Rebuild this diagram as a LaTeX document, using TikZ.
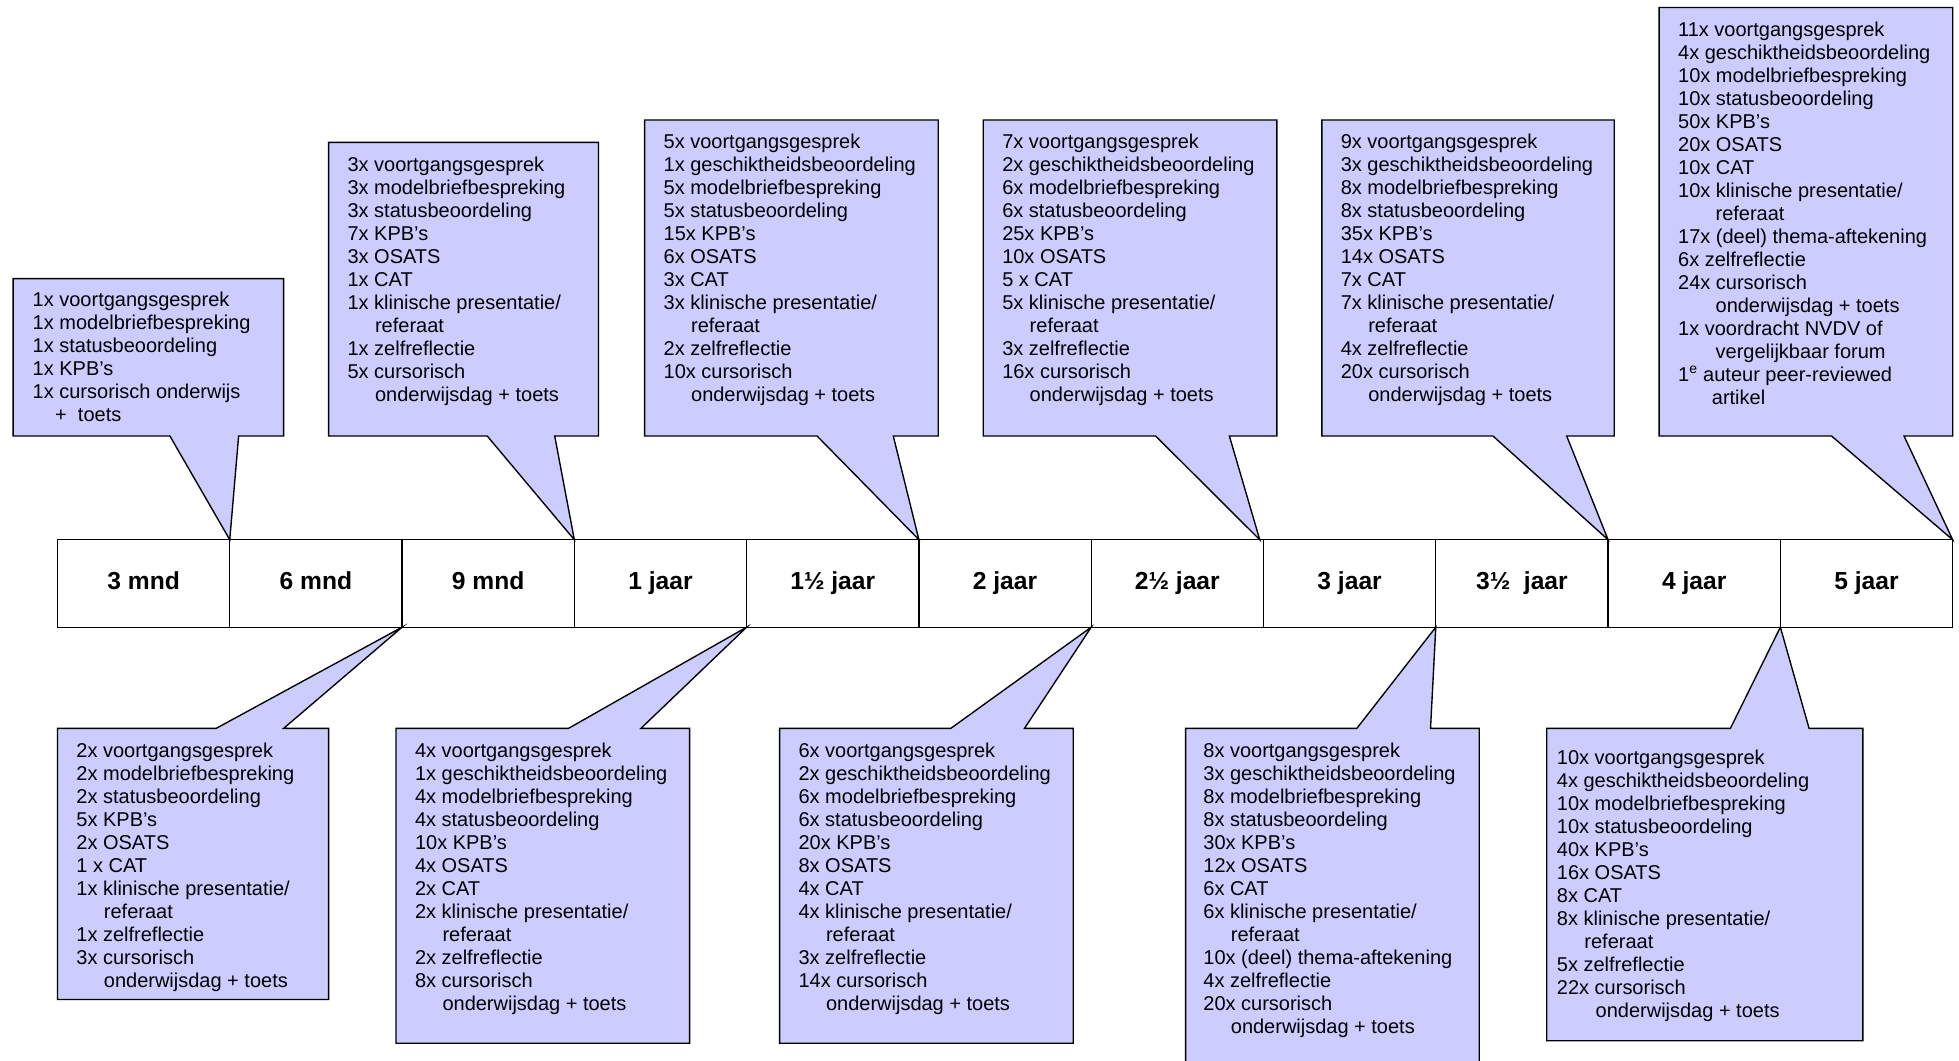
\documentclass[tikz,border=0pt]{standalone}
\usepackage{fontspec}
\setmainfont{Liberation Sans}
\definecolor{lila}{RGB}{204,204,255}
\tikzset{
  cell/.style={draw,line width=1.1pt,minimum width=137.9pt,minimum height=70pt,inner sep=0pt,outer sep=0pt,
    text height=14.5pt,text depth=4.5pt,font=\bfseries\fontsize{19.7}{22}\selectfont},
  callout/.style={draw,line width=1.1pt,fill=lila},
  list/.style={anchor=north west,align=left,inner sep=0pt,font=\fontsize{16}{18.4}\selectfont}
}
\newcommand{\inset}[1][22pt]{\hspace*{#1}}
\begin{document}
\begin{tikzpicture}[x=1pt,y=-1pt,line join=miter]
\useasboundingbox (0,0) rectangle (1568,849);
% tijdbalk
\foreach \t [count=\i] in {3 mnd,6 mnd,9 mnd,1 jaar,1½ jaar,2 jaar,2½ jaar,3 jaar,3½~~jaar,4 jaar,5 jaar}
  \node[cell] (c\i) at ({46+(\i-0.5)*137.9},467) {\t};
% ballonnen boven
\draw[callout] (10.5,223) -- (227,223) -- (227,349) -- (191,349) -- (c1.north east) -- (136,349) -- (10.5,349) -- cycle;
\draw[callout] (263,114) -- (479,114) -- (479,349) -- (444,349) -- (c3.north east) -- (390,349) -- (263,349) -- cycle;
\draw[callout] (516,96) -- (751,96) -- (751,349) -- (715,349) -- (c5.north east) -- (654,349) -- (516,349) -- cycle;
\draw[callout] (787,96) -- (1022,96) -- (1022,349) -- (984,349) -- ([xshift=-3pt]c7.north east) -- (925,349) -- (787,349) -- cycle;
\draw[callout] (1058,96) -- (1292,96) -- (1292,349) -- (1254,349) -- (c9.north east) -- (1195,349) -- (1058,349) -- cycle;
\draw[callout] (1328,6) -- (1563,6) -- (1563,349) -- (1524,349) -- (c11.north east) -- (1466,349) -- (1328,349) -- cycle;
% ballonnen onder
\draw[callout] (46,583) -- (173,583) -- (c2.south east) -- (227,583) -- (263,583) -- (263,800) -- (46,800) -- cycle;
\draw[callout] (317,583) -- (455,583) -- (c4.south east) -- (513,583) -- (552,583) -- (552,835) -- (317,835) -- cycle;
\draw[callout] (624,583) -- (761,583) -- (c6.south east) -- (820,583) -- (859,583) -- (859,835) -- (624,835) -- cycle;
\draw[callout] (949,583) -- (1086,583) -- (c8.south east) -- (1145,583) -- (1184,583) -- (1184,870) -- (949,870) -- cycle;
\draw[callout] (1238,583) -- (1385,583) -- (c10.south east) -- (1448,583) -- (1491,583) -- (1491,833) -- (1238,833) -- cycle;
% teksten
\node[list] (m3) at (26,233.5) {1x voortgangsgesprek\\1x modelbriefbespreking\\1x statusbeoordeling\\1x KPB’s\\
  1x cursorisch onderwijs\\\inset[18pt]+~~toets};
\node[list] (m9) at (278,125.5) {3x voortgangsgesprek\\3x modelbriefbespreking\\3x statusbeoordeling\\7x KPB’s\\
  3x OSATS\\1x CAT\\1x klinische presentatie/\\\inset referaat\\1x zelfreflectie\\5x cursorisch\\\inset onderwijsdag + toets};
\node[list] (j15) at (531,107) {5x voortgangsgesprek\\1x geschiktheidsbeoordeling\\5x modelbriefbespreking\\5x statusbeoordeling\\
  15x KPB’s\\6x OSATS\\3x CAT\\3x klinische presentatie/\\\inset referaat\\2x zelfreflectie\\10x cursorisch\\\inset onderwijsdag + toets};
\node[list] (j25) at (802,107) {7x voortgangsgesprek\\2x geschiktheidsbeoordeling\\6x modelbriefbespreking\\6x statusbeoordeling\\
  25x KPB’s\\10x OSATS\\5 x CAT\\5x klinische presentatie/\\\inset referaat\\3x zelfreflectie\\16x cursorisch\\\inset onderwijsdag + toets};
\node[list] (j35) at (1073,107) {9x voortgangsgesprek\\3x geschiktheidsbeoordeling\\8x modelbriefbespreking\\8x statusbeoordeling\\
  35x KPB’s\\14x OSATS\\7x CAT\\7x klinische presentatie/\\\inset referaat\\4x zelfreflectie\\20x cursorisch\\\inset onderwijsdag + toets};
\node[list] (j5) at (1343,17.5) {11x voortgangsgesprek\\4x geschiktheidsbeoordeling\\10x modelbriefbespreking\\10x statusbeoordeling\\
  50x KPB’s\\20x OSATS\\10x CAT\\10x klinische presentatie/\\\inset[30pt]referaat\\17x (deel) thema-aftekening\\6x zelfreflectie\\
  24x cursorisch\\\inset[30pt]onderwijsdag + toets\\1x voordracht NVDV of\\\inset[30pt]vergelijkbaar forum\\
  1\textsuperscript{e} auteur peer-reviewed\\\inset[27pt]artikel};
\node[list] (m6) at (61,594.5) {2x voortgangsgesprek\\2x modelbriefbespreking\\2x statusbeoordeling\\5x KPB’s\\
  2x OSATS\\1 x CAT\\1x klinische presentatie/\\\inset referaat\\1x zelfreflectie\\3x cursorisch\\\inset onderwijsdag + toets};
\node[list] (j1) at (332,594.5) {4x voortgangsgesprek\\1x geschiktheidsbeoordeling\\4x modelbriefbespreking\\4x statusbeoordeling\\
  10x KPB’s\\4x OSATS\\2x CAT\\2x klinische presentatie/\\\inset referaat\\2x zelfreflectie\\8x cursorisch\\\inset onderwijsdag + toets};
\node[list] (j2) at (639,594.5) {6x voortgangsgesprek\\2x geschiktheidsbeoordeling\\6x modelbriefbespreking\\6x statusbeoordeling\\
  20x KPB’s\\8x OSATS\\4x CAT\\4x klinische presentatie/\\\inset referaat\\3x zelfreflectie\\14x cursorisch\\\inset onderwijsdag + toets};
\node[list] (j3) at (963,594.5) {8x voortgangsgesprek\\3x geschiktheidsbeoordeling\\8x modelbriefbespreking\\8x statusbeoordeling\\
  30x KPB’s\\12x OSATS\\6x CAT\\6x klinische presentatie/\\\inset referaat\\10x (deel) thema-aftekening\\4x zelfreflectie\\
  20x cursorisch\\\inset onderwijsdag + toets};
\node[list] (j4) at (1246,600.5) {10x voortgangsgesprek\\4x geschiktheidsbeoordeling\\10x modelbriefbespreking\\10x statusbeoordeling\\
  40x KPB’s\\16x OSATS\\8x CAT\\8x klinische presentatie/\\\inset referaat\\5x zelfreflectie\\22x cursorisch\\\inset[31pt]onderwijsdag + toets};
\end{tikzpicture}
\end{document}
